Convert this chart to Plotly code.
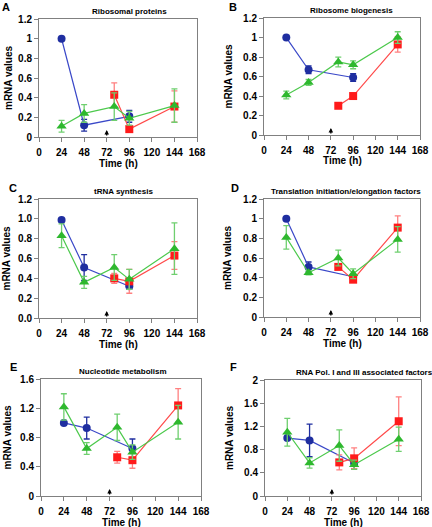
import plotly.graph_objects as go

W, H = 432, 527

# ---------------- data ----------------
time_blue = [24, 48, 96]
time_green = [24, 48, 80, 96, 144]
time_red = [80, 96, 144]

panel_letters = ["A", "B", "C", "D", "E", "F"]
panel_titles = ["Ribosomal proteins", "Ribosome biogenesis", "tRNA synthesis",
                "Translation initiation/elongation factors", "Nucleotide metabolism",
                "RNA Pol. I and III associated factors"]

x_ticks = [0, 24, 48, 72, 96, 120, 144, 168]
x_ticklabels = ["0", "24", "48", "72", "96", "120", "144", "168"]

y_ticks_12 = [0, 0.2, 0.4, 0.6, 0.8, 1.0, 1.2]
y_ticklabels_12 = ["0", "0.2", "0.4", "0.6", "0.8", "1", "1.2"]
y_ticklabels_12c = ["0.0", "0.2", "0.4", "0.6", "0.8", "1.0", "1.2"]
y_ticks_16 = [0, 0.4, 0.8, 1.2, 1.6]
y_ticklabels_16 = ["0", "0.4", "0.8", "1.2", "1.6"]
y_ticks_20 = [0, 0.4, 0.8, 1.2, 1.6, 2.0]
y_ticklabels_20 = ["0", "0.4", "0.8", "1.2", "1.6", "2"]

# Panel A
blue_A = [1.0, 0.12, 0.21];               blue_A_err = [0, 0.06, 0.06]
green_A = [0.11, 0.24, 0.31, 0.19, 0.32];  green_A_err = [0.06, 0.09, 0.14, 0.07, 0.17]
red_A = [0.43, 0.08, 0.31];                red_A_err = [0.12, 0.03, 0.16]
# Panel B
blue_B = [1.0, 0.67, 0.59];               blue_B_err = [0, 0.04, 0.04]
green_B = [0.41, 0.54, 0.75, 0.72, 1.0];   green_B_err = [0.04, 0.03, 0.05, 0.04, 0.06]
red_B = [0.30, 0.40, 0.93];                red_B_err = [0.01, 0.02, 0.08]
# Panel C
blue_C = [0.99, 0.51, 0.32];              blue_C_err = [0, 0.13, 0.03]
green_C = [0.83, 0.36, 0.51, 0.39, 0.70];  green_C_err = [0.12, 0.06, 0.13, 0.10, 0.26]
red_C = [0.40, 0.37, 0.63];                red_C_err = [0.05, 0.12, 0.14]
# Panel D
blue_D = [1.0, 0.51, 0.41];               blue_D_err = [0, 0.05, 0.01]
green_D = [0.81, 0.45, 0.60, 0.44, 0.79];  green_D_err = [0.12, 0.02, 0.08, 0.05, 0.13]
red_D = [0.51, 0.38, 0.91];                red_D_err = [0.03, 0.02, 0.12]
# Panel E
blue_E = [1.0, 0.93, 0.65];               blue_E_err = [0, 0.15, 0.13]
green_E = [1.22, 0.65, 0.94, 0.60, 1.01];  green_E_err = [0.18, 0.08, 0.18, 0.10, 0.23]
red_E = [0.53, 0.49, 1.24];                red_E_err = [0.08, 0.11, 0.23]
# Panel F
blue_F = [1.0, 0.96, 0.57];               blue_F_err = [0, 0.28, 0.10]
green_F = [1.10, 0.57, 0.87, 0.54, 0.98];  green_F_err = [0.24, 0.09, 0.27, 0.08, 0.21]
red_F = [0.58, 0.65, 1.29];                red_F_err = [0.13, 0.18, 0.42]

blue_all = [(blue_A, blue_A_err), (blue_B, blue_B_err), (blue_C, blue_C_err),
            (blue_D, blue_D_err), (blue_E, blue_E_err), (blue_F, blue_F_err)]
green_all = [(green_A, green_A_err), (green_B, green_B_err), (green_C, green_C_err),
             (green_D, green_D_err), (green_E, green_E_err), (green_F, green_F_err)]
red_all = [(red_A, red_A_err), (red_B, red_B_err), (red_C, red_C_err),
           (red_D, red_D_err), (red_E, red_E_err), (red_F, red_F_err)]
y_axes_spec = [(1.2, y_ticks_12, y_ticklabels_12), (1.2, y_ticks_12, y_ticklabels_12),
               (1.2, y_ticks_12, y_ticklabels_12c), (1.2, y_ticks_12, y_ticklabels_12),
               (1.6, y_ticks_16, y_ticklabels_16), (2.0, y_ticks_20, y_ticklabels_20)]

# ---------------- layout geometry (pixels) ----------------
boxes = [(39, 197, 19, 137), (264, 420, 18, 135), (39, 197, 199, 318),
         (264, 420, 199, 317), (41, 201, 379, 496), (265, 421, 380, 496)]
letter_pos = [(6, 7), (233, 7), (13, 188), (235, 188), (13, 367), (234, 367)]
title_cx = [129, 351, 123, 346, 123, 364]
ytitle_x = [9, 228, 6, 228, 7, 229]

FONT = "Arial, Liberation Sans, sans-serif"
BLUE_M, BLUE_L = "#1f2ea0", "#3a48c8"
GREEN_M, GREEN_L, GREEN_E = "#2eb82e", "#4cc94c", "#6fcf6f"
RED_M, RED_L, RED_E = "#ff1a1a", "#ff4a4a", "#ff8080"

fig = go.Figure()
annotations = []
layout = dict(width=W, height=H,
              margin=dict(l=0, r=0, t=0, b=0, pad=0, autoexpand=False),
              paper_bgcolor="white", plot_bgcolor="white", showlegend=False)


def px(x):
    return x / W


def py(y):
    return 1 - y / H


for i in range(6):
    n = "" if i == 0 else str(i + 1)
    xa, ya = "x" + n, "y" + n
    x0, x1, y0, y1 = boxes[i]
    ymax, yt, ytl = y_axes_spec[i]

    bv, be = blue_all[i]
    gv, ge = green_all[i]
    rv, re_ = red_all[i]

    fig.add_trace(go.Scatter(
        x=time_blue, y=bv, mode="lines+markers", xaxis=xa, yaxis=ya,
        line=dict(color=BLUE_L, width=1.2),
        marker=dict(symbol="circle", size=8, color=BLUE_M),
        error_y=dict(type="data", array=be, color=BLUE_M, thickness=1.3, width=3),
        cliponaxis=False))
    fig.add_trace(go.Scatter(
        x=time_red, y=rv, mode="lines+markers", xaxis=xa, yaxis=ya,
        line=dict(color=RED_L, width=1.2),
        marker=dict(symbol="square", size=8, color=RED_M),
        error_y=dict(type="data", array=re_, color=RED_E, thickness=1.3, width=3),
        cliponaxis=False))
    fig.add_trace(go.Scatter(
        x=time_green, y=gv, mode="lines+markers", xaxis=xa, yaxis=ya,
        line=dict(color=GREEN_L, width=1.2),
        marker=dict(symbol="triangle-up", size=9, color=GREEN_M),
        error_y=dict(type="data", array=ge, color=GREEN_E, thickness=1.3, width=3),
        cliponaxis=False))

    layout["xaxis" + n] = dict(
        domain=[px(x0), px(x1)], anchor=ya, range=[0, 168],
        tickmode="array", tickvals=x_ticks, ticktext=x_ticklabels,
        ticks="outside", ticklen=4, tickcolor="#808080", tickwidth=1,
        ticklabelstandoff=2, automargin=False, ticklabeloverflow="allow",
        showline=True, linecolor="#808080", linewidth=1, mirror=True,
        showgrid=False, zeroline=False,
        tickfont=dict(family=FONT, size=10, color="black", weight="bold"))
    layout["yaxis" + n] = dict(
        domain=[py(y1), py(y0)], anchor=xa, range=[0, ymax * 1.001],
        tickmode="array", tickvals=yt, ticktext=ytl,
        ticks="outside", ticklen=4, tickcolor="#808080", tickwidth=1,
        automargin=False, ticklabeloverflow="allow",
        showline=True, linecolor="#808080", linewidth=1, mirror=True,
        showgrid=False, zeroline=False,
        tickfont=dict(family=FONT, size=10, color="black", weight="bold"))

    # arrow at 72 h
    arrow_len = ymax / (y1 - y0) * 7
    annotations.append(dict(
        x=72, y=arrow_len, ax=72, ay=0, xref=xa, yref=ya, axref=xa, ayref=ya,
        text="", showarrow=True, arrowhead=2, arrowsize=0.7, arrowwidth=1.3,
        arrowcolor="black", standoff=0, startstandoff=0))

    # panel letter
    lx, ly = letter_pos[i]
    annotations.append(dict(
        x=px(lx), y=py(ly), xref="paper", yref="paper", text=panel_letters[i],
        showarrow=False, xanchor="center", yanchor="middle",
        font=dict(family=FONT, size=11, color="black", weight="bold")))
    # panel title
    annotations.append(dict(
        x=px(title_cx[i]), y=py(y0 - 1), xref="paper", yref="paper",
        text=panel_titles[i], showarrow=False, xanchor="center", yanchor="bottom",
        font=dict(family=FONT, size=8, color="black", weight="bold")))
    # x axis title
    annotations.append(dict(
        x=px((x0 + x1) / 2 + 0.5), y=py(y1 + 26), xref="paper", yref="paper",
        text="Time (h)", showarrow=False, xanchor="center", yanchor="middle",
        font=dict(family=FONT, size=10, color="black", weight="bold")))
    # y axis title
    annotations.append(dict(
        x=px(ytitle_x[i]), y=py((y0 + y1) / 2), xref="paper", yref="paper",
        text="mRNA values", textangle=-90, showarrow=False,
        xanchor="center", yanchor="middle",
        font=dict(family=FONT, size=10, color="black", weight="bold")))

layout["annotations"] = annotations
fig.update_layout(**layout)
fig.write_html("out.html", config={"displayModeBar": False},
               post_script="document.body.style.margin='0';document.body.style.overflow='hidden';")
